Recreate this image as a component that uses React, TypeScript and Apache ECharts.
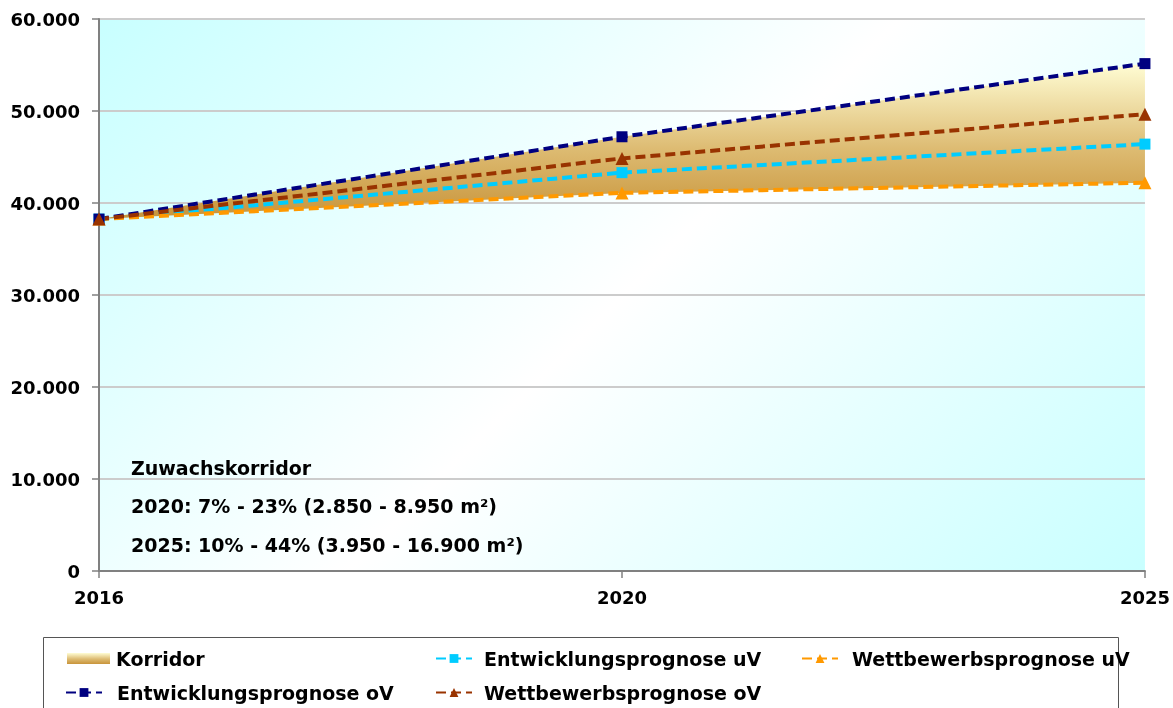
import React, { useEffect, useRef } from "react";
import * as echarts from "echarts";

const years = ["2016", "2020", "2025"];
const entwicklungUV = [38250, 43300, 46400];
const wettbewerbUV = [38250, 41100, 42200];
const entwicklungOV = [38250, 47200, 55150];
const wettbewerbOV = [38250, 44850, 49650];
const yTickLabels: Record<number, string> = {
  0: "0",
  10000: "10.000",
  20000: "20.000",
  30000: "30.000",
  40000: "40.000",
  50000: "50.000",
  60000: "60.000",
};
const annotationLines = [
  "Zuwachskorridor",
  "2020: 7% - 23% (2.850 - 8.950 m²)",
  "2025: 10% - 44% (3.950 - 16.900 m²)",
];

const FONT = "DejaVu Sans";

const corridorGradient = () =>
  new echarts.graphic.LinearGradient(0, 0, 0, 1, [
    { offset: 0, color: "#FFFDD4" },
    { offset: 0.55, color: "#DDBB72" },
    { offset: 1, color: "#C8943A" },
  ]);

export default function App() {
  const ref = useRef<HTMLDivElement>(null);
  useEffect(() => {
    document.body.style.margin = "0";
    const chart = echarts.init(ref.current!, undefined, { renderer: "svg" });
    const corridorDiff = entwicklungOV.map((v, i) => v - wettbewerbUV[i]);
    const dash = [10, 5];
    const lineSeries = (name: string, data: number[], color: string, symbol: string, size: number) => ({
      name,
      type: "line",
      data,
      symbol,
      symbolSize: size,
      showSymbol: true,
      lineStyle: { color, width: 4, type: dash },
      itemStyle: { color },
      z: 5,
    });
    const mkLegend = (name: string, left: number, top: number, width: number, textPad: number, extra: any = {}) => ({
      data: [{ name, ...extra }],
      left,
      top,
      itemWidth: width,
      itemHeight: 11,
      textStyle: {
        fontFamily: FONT,
        fontSize: 19,
        fontWeight: "bold",
        color: "#000",
        padding: [0, 0, 0, textPad],
      },
      selectedMode: false,
    });
    chart.setOption({
      animation: false,
      grid: {
        left: 99,
        right: 27,
        top: 19,
        bottom: 137,
        show: true,
        borderWidth: 0,
        backgroundColor: new echarts.graphic.LinearGradient(
          99,
          19,
          899,
          819,
          [
            { offset: 0, color: "#C8FFFF" },
            { offset: 0.5, color: "#FFFFFF" },
            { offset: 1, color: "#C8FFFF" },
          ],
          true
        ),
      },
      xAxis: {
        type: "category",
        data: years,
        boundaryGap: false,
        axisLine: { lineStyle: { color: "#808080", width: 2 } },
        axisTick: { show: true, length: 7, lineStyle: { color: "#808080", width: 1.5 } },
        axisLabel: { fontFamily: FONT, fontSize: 18, fontWeight: "bold", color: "#000", margin: 17 },
      },
      yAxis: {
        type: "value",
        min: 0,
        max: 60000,
        interval: 10000,
        axisLine: { show: true, lineStyle: { color: "#808080", width: 2 } },
        axisTick: { show: true, length: 7, lineStyle: { color: "#808080", width: 1.5 } },
        splitLine: { lineStyle: { color: "#CCCCCC", width: 2 } },
        axisLabel: {
          fontFamily: FONT,
          fontSize: 18,
          fontWeight: "bold",
          color: "#000",
          margin: 19,
          formatter: (v: number) => yTickLabels[v] ?? String(v),
        },
      },
      legend: [
        mkLegend("Korridor", 62, 644, 43, 1, { icon: "rect", itemStyle: { color: corridorGradient() } }),
        mkLegend("Entwicklungsprognose uV", 430, 644, 36, 7),
        mkLegend("Wettbewerbsprognose uV", 796, 644, 36, 9),
        mkLegend("Entwicklungsprognose oV", 60, 678, 36, 10),
        mkLegend("Wettbewerbsprognose oV", 430, 678, 36, 7),
      ],
      graphic: [
        {
          type: "rect",
          shape: { x: 43.5, y: 637.5, width: 1075, height: 90 },
          style: { fill: "none", stroke: "#555555", lineWidth: 1 },
          silent: true,
        },
        ...annotationLines.map((t, i) => ({
          type: "text",
          x: 131,
          y: [468, 506, 545][i],
          style: {
            text: t,
            fontFamily: FONT,
            fontSize: 19,
            fontWeight: "bold",
            fill: "#000",
            verticalAlign: "middle",
          },
          z: 10,
        })),
      ],
      series: [
        {
          name: "base",
          type: "line",
          data: wettbewerbUV,
          stack: "korr",
          symbol: "none",
          lineStyle: { width: 0 },
          silent: true,
          z: 1,
        },
        {
          name: "Korridor",
          type: "line",
          data: corridorDiff,
          stack: "korr",
          symbol: "none",
          lineStyle: { width: 0 },
          itemStyle: { color: "#D4A850" },
          areaStyle: { color: corridorGradient(), opacity: 1 },
          silent: true,
          z: 2,
        },
        lineSeries("Entwicklungsprognose uV", entwicklungUV, "#00CCFF", "rect", 11),
        lineSeries("Wettbewerbsprognose uV", wettbewerbUV, "#FF9900", "triangle", 13),
        lineSeries("Entwicklungsprognose oV", entwicklungOV, "#000080", "rect", 11),
        lineSeries("Wettbewerbsprognose oV", wettbewerbOV, "#993300", "triangle", 13),
      ],
    });
    return () => chart.dispose();
  }, []);
  return (
    <div
      ref={ref}
      style={{ position: "fixed", left: 0, top: 0, width: 1173, height: 708 }}
    />
  );
}
